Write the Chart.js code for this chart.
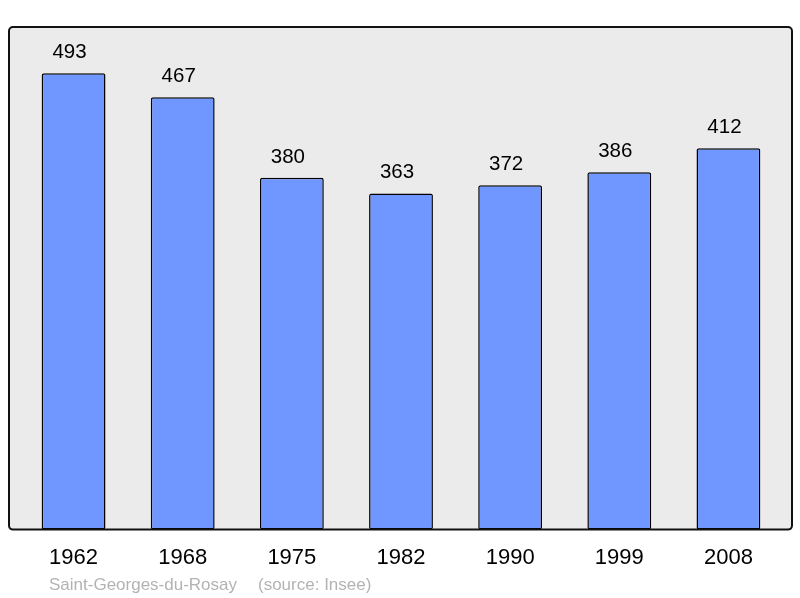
<!DOCTYPE html>
<html>
<head>
<meta charset="utf-8">
<script src="https://cdn.jsdelivr.net/npm/chart.js@4"></script>
<style>
  html, body { margin: 0; padding: 0; background: #fff; }
  #wrap { width: 800px; height: 598px; }
</style>
</head>
<body>
<div id="wrap"><canvas id="chart" width="800" height="598"></canvas></div>
<script>
var years = ['1962', '1968', '1975', '1982', '1990', '1999', '2008'];
var population = [493, 467, 380, 363, 372, 386, 412];
var commune = 'Saint-Georges-du-Rosay';
var source = '(source: Insee)';

var fontFamily = '"Liberation Sans", Arial, sans-serif';

var framePlugin = {
    id: 'frame',
    beforeDraw: function(chart){
        var ctx = chart.ctx, a = chart.chartArea;
        ctx.save();
        roundRect(ctx, a.left - 10, a.top, a.right - a.left + 19, a.bottom - a.top, 4);
        ctx.fillStyle = '#ebebeb';
        ctx.fill();
        ctx.restore();
    },
    afterDraw: function(chart){
        var ctx = chart.ctx, a = chart.chartArea;
        ctx.save();
        roundRect(ctx, a.left - 10, a.top, a.right - a.left + 19, a.bottom - a.top, 4);
        ctx.lineWidth = 2;
        ctx.strokeStyle = '#111';
        ctx.stroke();

        // value labels
        var meta = chart.getDatasetMeta(0);
        ctx.fillStyle = '#000';
        ctx.font = '20.5px ' + fontFamily;
        ctx.textAlign = 'center';
        ctx.textBaseline = 'middle';
        meta.data.forEach(function(bar, i){
            ctx.fillText(String(population[i]), bar.x - 4, bar.y - 21);
        });

        // caption
        ctx.fillStyle = '#b3b3b3';
        ctx.font = '17px ' + fontFamily;
        ctx.textAlign = 'left';
        ctx.textBaseline = 'alphabetic';
        ctx.fillText(commune, 49, 590);
        ctx.fillText(source, 258, 590);
        ctx.restore();
    }
};

function roundRect(ctx, x, y, w, h, r){
    ctx.beginPath();
    ctx.moveTo(x + r, y);
    ctx.lineTo(x + w - r, y);
    ctx.arcTo(x + w, y, x + w, y + r, r);
    ctx.lineTo(x + w, y + h - r);
    ctx.arcTo(x + w, y + h, x + w - r, y + h, r);
    ctx.lineTo(x + r, y + h);
    ctx.arcTo(x, y + h, x, y + h - r, r);
    ctx.lineTo(x, y + r);
    ctx.arcTo(x, y, x + r, y, r);
    ctx.closePath();
}

var chart = new Chart(document.getElementById('chart'), {
    type: 'bar',
    data: {
        labels: years,
        datasets: [{
            data: population,
            backgroundColor: '#7097ff',
            borderColor: '#000',
            borderWidth: 1.5,
            borderRadius: 2,
            borderSkipped: false,
            barPercentage: 1,
            categoryPercentage: 0.585
        }]
    },
    options: {
        responsive: false,
        animation: false,
        layout: { padding: { left: 19, right: 17, top: 27, bottom: 12 } },
        plugins: { legend: { display: false }, tooltip: { enabled: false } },
        scales: {
            x: {
                grid: { display: false, drawTicks: false },
                border: { display: false },
                ticks: { color: '#000', font: { family: fontFamily, size: 22 }, padding: 15 }
            },
            y: {
                display: false,
                min: 0,
                max: 543
            }
        }
    },
    plugins: [framePlugin]
});
</script>
</body>
</html>
